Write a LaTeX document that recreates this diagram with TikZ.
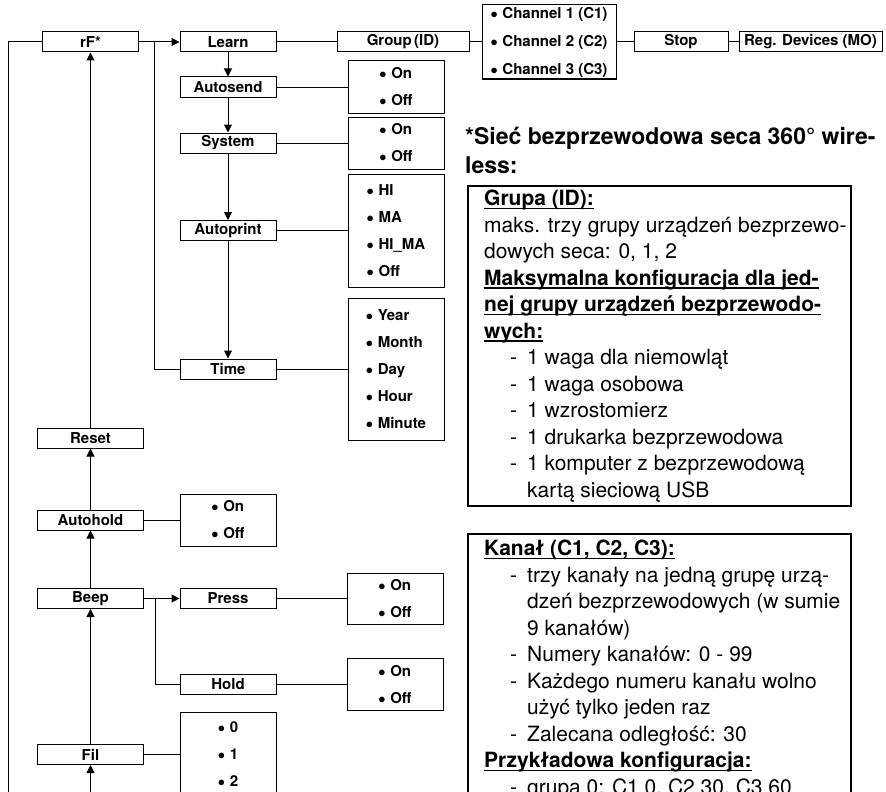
\documentclass[tikz,border=0pt]{standalone}
\usepackage{fontspec}
\setmainfont{TeX Gyre Heros}
\usetikzlibrary{positioning,arrows.meta,calc}

% list lines in the note boxes
\newcommand\dashitem[1]{\hspace*{26pt}\makebox[17pt][l]{-}#1}
\newcommand\dashcont[1]{\hspace*{43pt}#1}
\newcommand\ulhead[1]{\setbox0\hbox{\bfseries #1}\rlap{\rule[-3.6pt]{\wd0}{1.5pt}}\box0}
\newcommand\optbullet{$\bullet$\hspace{0.5pt}}

\begin{document}
\begin{tikzpicture}[
    x=1pt, y=-1pt,
    >={Triangle[length=8pt,width=8pt]},
    % menu diagram styles
    menu/.style={rectangle, draw, line width=1pt, minimum width=96pt, minimum height=20pt, inner sep=0pt, font=\bfseries\fontsize{15}{18}\selectfont},
    leftmenu/.style={menu, minimum width=106pt},
    opts/.style={rectangle, draw, line width=1pt, minimum width=96pt, inner sep=0pt, align=left, font=\bfseries\fontsize{15}{27}\selectfont},
    notebox/.style={rectangle, draw, line width=2.2pt, anchor=north west, inner sep=0pt},
    notetext/.style={anchor=north west, inner sep=0pt, align=left, font=\fontsize{21}{26.5}\selectfont},
    flow/.style={->, draw, line width=1pt},
    link/.style={draw, line width=1pt}
  ]
  \useasboundingbox (0,0) rectangle (886,792);
  \clip (0,0) rectangle (886,792);

  % Left column
  \node[menu] (rf) at (90.5,42) {rF*};
  \node[leftmenu] (reset) at (90.5,438) {Reset};
  \node[leftmenu] (autohold) at (90.5,520) {Autohold};
  \node[leftmenu] (beep) at (90.5,598.5) {Beep};
  \node[leftmenu] (fil) at (90.5,754.5) {Fil};

  % rF submenu
  \node[menu] (learn) at (228,42) {Learn};
  \node[menu] (autosend) at (228,87) {Autosend};
  \node[menu] (system) at (228,143) {System};
  \node[menu] (autoprint) at (228,230.5) {Autoprint};
  \node[menu] (time) at (228,369) {Time};

  % Learn chain
  \node[menu, minimum width=132pt] (group) at (403,42) {Group\,(ID)};
  \node[opts, minimum width=134pt, minimum height=74pt, font=\bfseries\fontsize{15}{28}\selectfont] (channels) at (549,42)
    {\optbullet{} Channel 1 (C1)\\\optbullet{} Channel 2 (C2)\\\optbullet{} Channel 3 (C3)};
  \node[menu, minimum width=94pt] (stop) at (681,42) {Stop};
  \node[menu, minimum width=143pt] (regdev) at (810.5,42) {Reg. Devices (MO)};

  % Options
  \node[opts, minimum height=52pt] (autosendopt) at (396,87) {\optbullet{} On\\\optbullet{} Off};
  \node[opts, minimum height=52pt] (systemopt) at (396,143) {\optbullet{} On\\\optbullet{} Off};
  \node[opts, minimum height=113pt] (autoprintopt) at (396,230.5)
    {\optbullet{} HI\\\optbullet{} MA\\\optbullet{} HI\_MA\\\optbullet{} Off};
  \node[opts, minimum height=142pt] (timeopt) at (396,369)
    {\optbullet{} Year\\\optbullet{} Month\\\optbullet{} Day\\\optbullet{} Hour\\\optbullet{} Minute};
  \node[opts, minimum height=52pt] (autoholdopt) at (228,520) {\optbullet{} On\\\optbullet{} Off};
  \node[menu] (press) at (228,598.5) {Press};
  \node[menu] (hold) at (228,684.5) {Hold};
  \node[opts, minimum height=51pt] (pressopt) at (395,598.5) {\optbullet{} On\\\optbullet{} Off};
  \node[opts, minimum height=52pt] (holdopt) at (395,684.5) {\optbullet{} On\\\optbullet{} Off};
  \node[opts, minimum height=84pt] (filopt) at (228,754.5) {\optbullet{} 0\\\optbullet{} 1\\\optbullet{} 2};

  % Notes
  \node[anchor=north west, inner sep=0pt, align=left, font=\bfseries\fontsize{23}{29}\selectfont] (title) at (465,127)
    {*Sieć bezprzewodowa seca 360° wire-\\less:};
  \node[notebox, minimum width=383pt, minimum height=320pt] (grupabox) at (467,185) {};
  \node[notetext] (grupa) at (484,190) {%
    \ulhead{Grupa (ID):}\\
    maks. trzy grupy urządzeń bezprzewo-\\
    dowych seca: 0, 1, 2\\
    \ulhead{Maksymalna konfiguracja dla jed-}\\
    \ulhead{nej grupy urządzeń bezprzewodo-}\\
    \ulhead{wych:}\\
    \dashitem{1 waga dla niemowląt}\\
    \dashitem{1 waga osobowa}\\
    \dashitem{1 wzrostomierz}\\
    \dashitem{1 drukarka bezprzewodowa}\\
    \dashitem{1 komputer z bezprzewodową}\\
    \dashcont{kartą sieciową USB}};
  \node[notebox, minimum width=383pt, minimum height=300pt] (kanalbox) at (467,533) {};
  \node[notetext] (kanal) at (484,540) {%
    \ulhead{Kanał (C1, C2, C3):}\\
    \dashitem{trzy kanały na jedną grupę urzą-}\\
    \dashcont{dzeń bezprzewodowych (w sumie}\\
    \dashcont{9 kanałów)}\\
    \dashitem{Numery kanałów: 0 - 99}\\
    \dashitem{Każdego numeru kanału wolno}\\
    \dashcont{użyć tylko jeden raz}\\
    \dashitem{Zalecana odległość: 30}\\
    \ulhead{Przykładowa konfiguracja:}\\
    \dashitem{grupa 0: C1 0, C2 30, C3 60}};

  % Branch points and free ends
  \coordinate (rfsplit) at (154,42);
  \coordinate (beepsplit) at (155,598.5);
  \coordinate (railend) at (8,800);
  \coordinate (filin) at (90.5,800);

  % Control flow
  \draw[link] (rf) -| (railend);
  \draw[flow] (rf) -- (learn);
  \draw[link] (rfsplit) |- (time);
  \draw[flow] (learn) -- (autosend);
  \draw[flow] (autosend) -- (system);
  \draw[flow] (system) -- (autoprint);
  \draw[flow] (autoprint) -- (time);
  \draw[link] (learn) -- (group);
  \draw[link] (group) -- (channels);
  \draw[link] (channels) -- (stop);
  \draw[link] (stop) -- (regdev);
  \draw[link] (autosend) -- (autosendopt);
  \draw[link] (system) -- (systemopt);
  \draw[link] (autoprint) -- (autoprintopt);
  \draw[link] (time) -- (timeopt);
  \draw[flow] (filin) -- (fil);
  \draw[flow] (fil) -- (beep);
  \draw[flow] (beep) -- (autohold);
  \draw[flow] (autohold) -- (reset);
  \draw[flow] (reset) -- (rf);
  \draw[link] (autohold) -- (autoholdopt);
  \draw[flow] (beep) -- (press);
  \draw[link] (beepsplit) |- (hold);
  \draw[link] (press) -- (pressopt);
  \draw[link] (hold) -- (holdopt);
  \draw[link] (fil) -- (filopt);
\end{tikzpicture}
\end{document}
